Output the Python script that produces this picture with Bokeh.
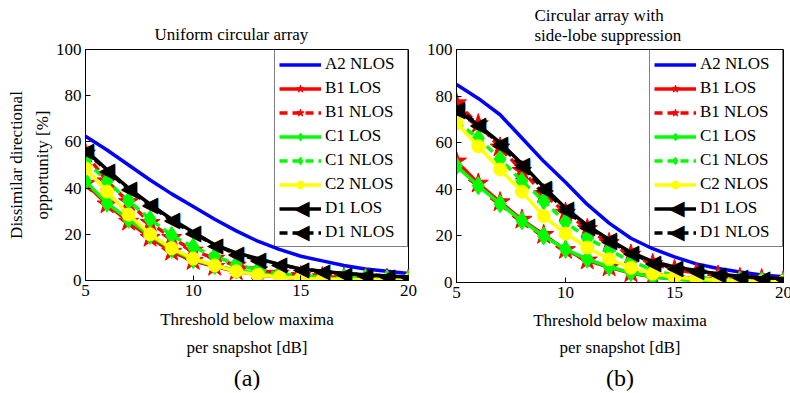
from bokeh.plotting import figure
from bokeh.layouts import row
from bokeh.models import Legend, LegendItem, FixedTicker, Title, Label, LabelSet, ColumnDataSource
from bokeh.embed import file_html
from bokeh.resources import INLINE

# ---------------- data ----------------
x = [5, 6, 7, 8, 9, 10, 11, 12, 13, 14, 15, 16, 17, 18, 19, 20]

# (a) Uniform circular array
a_A2_NLOS = [62.5, 56.5, 50, 43.5, 37.5, 32, 26.5, 21.5, 17, 13.5, 10.5, 8.5, 6.5, 5, 4, 3]
a_B1_LOS = [42, 33, 25.5, 18.5, 12.5, 8.5, 6, 4, 2.5, 1.5, 1, 0.7, 0.5, 0.4, 0.3, 0.2]
a_B1_NLOS = [55, 43, 34, 25, 18.5, 13, 9.5, 6.5, 4.5, 3, 2, 1.5, 1.2, 1, 0.8, 0.6]
a_C1_LOS = [43, 33.5, 26.5, 19.5, 13.5, 9, 6.5, 4.5, 3, 2, 1.2, 0.8, 0.6, 0.4, 0.3, 0.2]
a_C1_NLOS = [52, 43, 34.5, 26.5, 19.5, 14.5, 10.5, 7, 4.5, 3, 2, 1.5, 1.2, 1, 0.7, 0.5]
a_C2_NLOS = [48.5, 38.5, 28.5, 20, 14, 9.5, 6.5, 4, 2.5, 1.5, 1, 0.6, 0.4, 0.3, 0.2, 0.1]
a_D1_LOS = [56.5, 48, 40, 33, 26.5, 21, 15.5, 12, 9.5, 7, 5, 4, 3, 2.5, 2, 1.5]
a_D1_NLOS = [56, 47.5, 39.5, 32.5, 26, 20.5, 15.5, 11.5, 9, 7, 5, 4, 3, 2.5, 2, 1.5]

# (b) Circular array with side-lobe suppression
b_A2_NLOS = [85, 79, 72, 62, 52, 43, 33.5, 25.5, 19, 14.5, 11, 8, 6, 4.5, 3.2, 2.5]
b_B1_LOS = [52, 42.5, 34.5, 27, 20.5, 14, 9.5, 6.5, 4, 2.5, 1.5, 1, 0.7, 0.5, 0.3, 0.2]
b_B1_NLOS = [77, 68, 58, 48, 38, 30, 23, 17, 12, 8, 5.5, 4, 3, 2, 1.5, 1]
b_C1_LOS = [50, 41.5, 33.8, 26.5, 20, 14.2, 10, 6.7, 4.3, 2.4, 1.5, 1, 0.7, 0.5, 0.3, 0.2]
b_C1_NLOS = [69, 62, 53, 43.5, 35, 26, 19, 14, 9, 5.5, 3, 2, 1.4, 1, 0.7, 0.5]
b_C2_NLOS = [68.5, 58.5, 48.5, 39, 28.5, 21, 15, 10, 6.3, 3.8, 2.4, 1.5, 1, 0.7, 0.5, 0.3]
b_D1_LOS = [74, 67.5, 60, 51, 41, 32, 24.5, 18.5, 13, 9, 6.7, 5.2, 3.7, 2.7, 2, 1.7]
b_D1_NLOS = [75, 68, 59, 50, 40, 31, 24, 18, 12.5, 8.5, 6.3, 5, 3.5, 2.5, 2, 1.5]

series_names = ["A2 NLOS", "B1 LOS", "B1 NLOS", "C1 LOS", "C1 NLOS", "C2 NLOS", "D1 LOS", "D1 NLOS"]
x_ticks = [5, 10, 15, 20]
y_ticks = [0, 20, 40, 60, 80, 100]

FONT = "Liberation Serif"
TRI = "\u25C0"  # left-pointing triangle marker

# style per series: color, dash, marker, size
styles = [
    ("#0000ff", "solid", None, 0),
    ("#ff0000", "solid", "star", 21),
    ("#ff0000", "8 5", "star", 21),
    ("#00ff00", "solid", "diamond", 18),
    ("#00ff00", "8 5", "diamond", 18),
    ("#ffff00", "solid", "circle", 13),
    ("#000000", "solid", "left_triangle", 21),
    ("#000000", "8 5", "left_triangle", 21),
]

# legend geometry (pixels)
LEG_PAD, LEG_SPACING, LEG_H, LEG_GW, LEG_STAND, LEG_LW = 4, 4, 19, 42, 4, 78
LEG_PITCH = 24.1  # measured item pitch (item height + spacing)


def ttl(text, size, standoff, align="center", offset=0, lh=1.0):
    return Title(text=text, align=align, offset=offset, standoff=standoff,
                 text_font=FONT, text_font_size=size, text_font_style="normal",
                 text_line_height=lh, text_color="black")


def make_panel(data, fw, fh, mb_left, mb_right, mb_top, titles_above, sub, ylabels, lab_so, t_so, sub_so):
    p = figure(frame_width=fw, frame_height=fh, x_range=(5, 20), y_range=(0, 100),
               output_backend="svg", toolbar_location=None,
               min_border_left=mb_left, min_border_right=mb_right,
               min_border_top=mb_top, min_border_bottom=0)
    p.title.visible = False
    p.grid.visible = False
    p.outline_line_color = "black"
    p.outline_line_width = 1
    p.background_fill_color = "white"
    p.border_fill_color = "white"
    p.xaxis.ticker = FixedTicker(ticks=x_ticks)
    p.yaxis.ticker = FixedTicker(ticks=y_ticks)
    for ax in (p.xaxis, p.yaxis):
        ax.major_tick_in = 5
        ax.major_tick_out = 0
        ax.minor_tick_line_color = None
        ax.axis_line_color = "black"
        ax.major_tick_line_color = "black"
        ax.major_label_text_font = FONT
        ax.major_label_text_font_size = "17px"
        ax.major_label_text_color = "black"
        ax.major_label_standoff = 4
    p.xaxis.axis_label = "Threshold below maxima"
    p.xaxis.axis_label_text_font = FONT
    p.xaxis.axis_label_text_font_size = "17px"
    p.xaxis.axis_label_text_font_style = "normal"
    p.xaxis.axis_label_text_color = "black"
    p.xaxis.axis_label_standoff = lab_so

    items = []
    tri_items = []
    for i, (name, ys, (col, dash, mk, sz)) in enumerate(zip(series_names, data, styles)):
        rs = []
        lr = p.line(x, ys, line_color=col, line_width=3.5, line_dash=dash)
        rs.append(lr)
        if mk == "left_triangle":
            src = ColumnDataSource(dict(x=x, y=ys, t=[TRI] * len(x)))
            p.add_layout(LabelSet(x="x", y="y", text="t", source=src, text_font="DejaVu Sans",
                                  text_font_size=f"{sz}px", text_align="center",
                                  text_baseline="middle", text_color=col))
            tri_items.append((i, col, sz))
        elif mk is not None:
            sr = p.scatter(x, ys, marker=mk, size=sz, fill_color=col, line_color=col)
            rs.append(sr)
        items.append(LegendItem(label=name, renderers=rs))

    # triangle symbols inside the legend glyph area
    leg_w = 2 * LEG_PAD + LEG_GW + LEG_STAND + LEG_LW
    gx_px = leg_w - LEG_PAD - LEG_GW / 2
    for i, col, sz in tri_items:
        cy_px = LEG_PAD + i * LEG_PITCH + (LEG_PITCH - LEG_SPACING) / 2
        p.add_layout(Label(x=20 - gx_px * 15 / fw, y=100 - cy_px * 100 / fh, text=TRI,
                           text_font="DejaVu Sans", text_font_size=f"{sz}px",
                           text_align="center", text_baseline="middle", text_color=col))

    leg = Legend(items=items, location="top_right", margin=0, padding=LEG_PAD, spacing=LEG_SPACING,
                 label_height=LEG_H, glyph_height=LEG_H, glyph_width=LEG_GW, label_standoff=LEG_STAND,
                 label_width=LEG_LW, label_text_font=FONT, label_text_font_size="17px",
                 label_text_color="black",
                 border_line_color="black", border_line_width=1, background_fill_alpha=0)
    p.add_layout(leg)

    for text, off, so in titles_above:
        p.add_layout(ttl(text, "17px", so, "left", off, 1.06), "above")

    p.add_layout(ttl("per snapshot [dB]", "17px", t_so), "below")
    p.add_layout(ttl(sub, "24px", sub_so), "below")

    for text, so in ylabels:
        p.add_layout(ttl(text, "17px", so), "left")
    return p


data_a = [a_A2_NLOS, a_B1_LOS, a_B1_NLOS, a_C1_LOS, a_C1_NLOS, a_C2_NLOS, a_D1_LOS, a_D1_NLOS]
data_b = [b_A2_NLOS, b_B1_LOS, b_B1_NLOS, b_C1_LOS, b_C1_NLOS, b_C2_NLOS, b_D1_LOS, b_D1_NLOS]

p1 = make_panel(data_a, 323, 231, 83, 15, 48,
                [("Uniform circular array", 69, 11)], "(a)",
                [("opportunity [%]", 1), ("Dissimilar directional", 9)], 11, 9, 2)
p2 = make_panel(data_b, 327, 233, 30, 12, 49,
                [("Circular array with\nside-lobe suppression", 78, 8)], "(b)", [],
                10, 6, 6)

layout = row(p1, p2)
open("out.html", "w").write(file_html(layout, INLINE))
